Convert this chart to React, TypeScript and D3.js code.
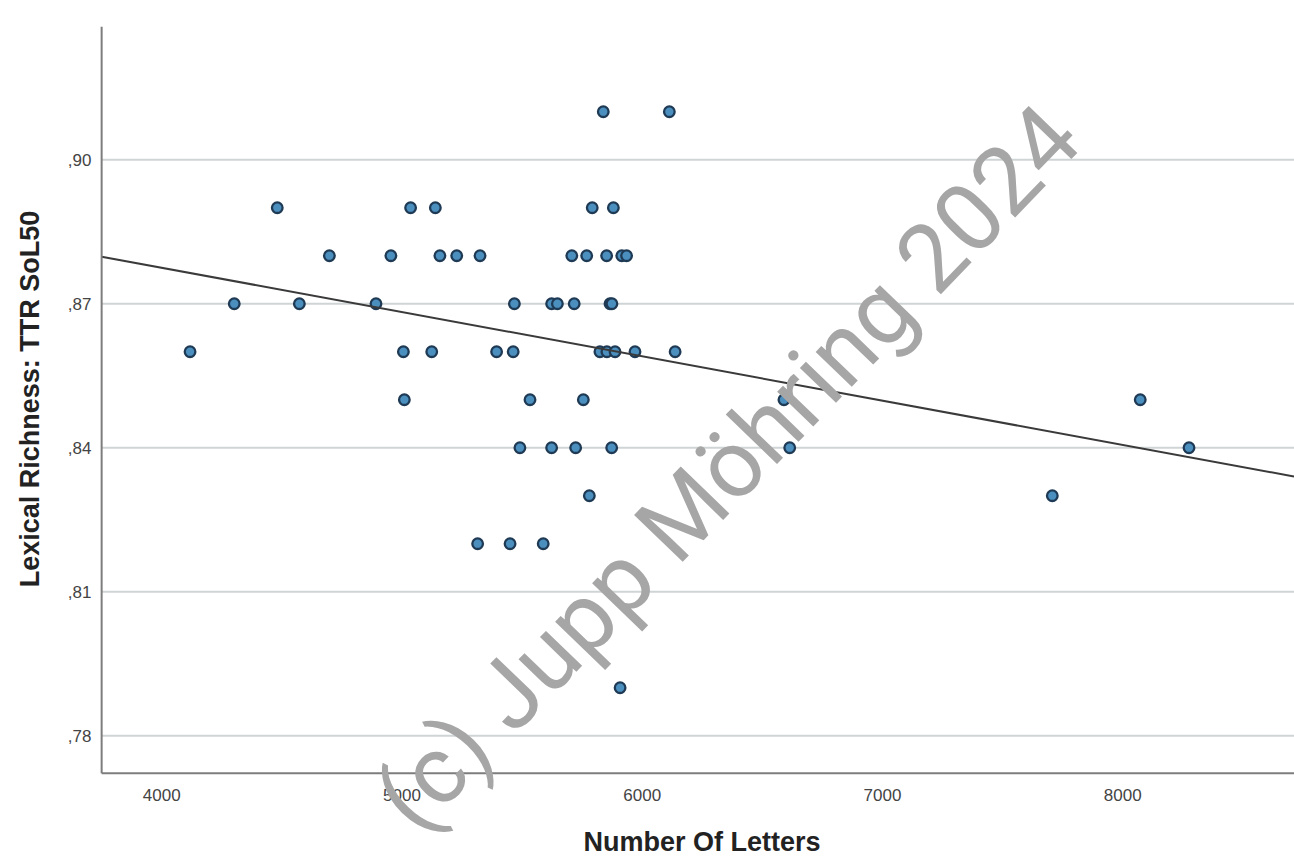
import React from "react";
import * as d3 from "d3";

// Number of letters (x) and TTR SoL50 (y) per text
const letters: number[] = [
  5838, 6113,
  4481, 5036, 5139, 5792, 5880,
  4698, 4954, 5158, 5228, 5325, 5707, 5769, 5852, 5915, 5935,
  4302, 4573, 4892, 5468, 5623, 5647, 5717, 5866, 5874,
  4118, 5006, 5124, 5394, 5463, 5824, 5853, 5887, 5970, 6137,
  5010, 5533, 5755, 6590, 8073,
  5491, 5623, 5723, 5873, 6614, 8276,
  5780, 7707,
  5315, 5450, 5588,
  5908,
];
const ttr: number[] = [
  0.91, 0.91,
  0.89, 0.89, 0.89, 0.89, 0.89,
  0.88, 0.88, 0.88, 0.88, 0.88, 0.88, 0.88, 0.88, 0.88, 0.88,
  0.87, 0.87, 0.87, 0.87, 0.87, 0.87, 0.87, 0.87, 0.87,
  0.86, 0.86, 0.86, 0.86, 0.86, 0.86, 0.86, 0.86, 0.86, 0.86,
  0.85, 0.85, 0.85, 0.85, 0.85,
  0.84, 0.84, 0.84, 0.84, 0.84, 0.84,
  0.83, 0.83,
  0.82, 0.82, 0.82,
  0.79,
];

const xTicks: number[] = [4000, 5000, 6000, 7000, 8000];
const yTicks: number[] = [0.78, 0.81, 0.84, 0.87, 0.9];
const yTickLabels: string[] = [",78", ",81", ",84", ",87", ",90"];

// Linear fit line end points (x, y)
const fitX: number[] = [3750, 8713];
const fitY: number[] = [0.8798, 0.834];

const xTitle = "Number Of Letters";
const yTitle = "Lexical Richness: TTR SoL50";
const watermark = "(c) Jupp Möhring 2024";

export default function App() {
  const W = 1294;
  const H = 858;
  const x = d3.scaleLinear().domain([4000, 8000]).range([161.7, 1122.7]);
  const y = d3.scaleLinear().domain([0.78, 0.9]).range([735.7, 159.7]);
  const left = x(3750);
  const right = W;
  const top = 26.7;
  const bottom = 773.3;
  const line = d3
    .line<number>()
    .x((d) => x(d))
    .y((_, i) => y(fitY[i]));
  const font = "'Liberation Sans', Arial, sans-serif";

  return (
    <svg
      width={W}
      height={H}
      style={{ position: "absolute", left: 0, top: 0, background: "#fff" }}
    >
      <rect x={0} y={0} width={W} height={H} fill="#fff" />
      <defs>
        <clipPath id="plot">
          <rect x={left} y={top} width={right - left} height={bottom - top} />
        </clipPath>
      </defs>
      {yTicks.map((t) => (
        <line
          key={"g" + t}
          x1={left}
          x2={right}
          y1={y(t)}
          y2={y(t)}
          stroke="#cfd5d6"
          strokeWidth={2}
        />
      ))}
      <g>
        {letters.map((v, i) => (
          <circle
            key={i}
            cx={x(v)}
            cy={y(ttr[i])}
            r={5.3}
            fill="#4b8fbf"
            stroke="#1f3a55"
            strokeWidth={2.3}
          />
        ))}
      </g>
      <path
        d={line(fitX) || ""}
        clipPath="url(#plot)"
        fill="none"
        stroke="#3a3a3a"
        strokeWidth={2}
      />
      <line x1={left} x2={left} y1={top} y2={bottom} stroke="#7d7d7d" strokeWidth={2} />
      <line x1={left} x2={right} y1={bottom} y2={bottom} stroke="#7d7d7d" strokeWidth={2} />
      {yTicks.map((t, i) => (
        <text
          key={"yt" + t}
          x={91.5}
          y={y(t)}
          dy="0.35em"
          textAnchor="end"
          fontFamily={font}
          fontSize={17}
          fill="#444"
        >
          {yTickLabels[i]}
        </text>
      ))}
      {xTicks.map((t) => (
        <text
          key={"xt" + t}
          x={x(t)}
          y={795}
          dy="0.35em"
          textAnchor="middle"
          fontFamily={font}
          fontSize={17}
          fill="#444"
        >
          {t}
        </text>
      ))}
      <text
        x={702}
        y={851}
        textAnchor="middle"
        fontFamily={font}
        fontWeight="bold"
        fontSize={27}
        fill="#222"
      >
        {xTitle}
      </text>
      <text
        transform="translate(39,399) rotate(-90)"
        textAnchor="middle"
        fontFamily={font}
        fontWeight="bold"
        fontSize={27}
        fill="#222"
      >
        {yTitle}
      </text>
      <text
        transform="translate(728,468) rotate(-46)"
        textAnchor="middle"
        dominantBaseline="central"
        fontFamily="Roboto, 'Liberation Sans', sans-serif"
        fontWeight={400}
        fontSize={95}
        fill="#a6a6a6"
      >
        {watermark}
      </text>
    </svg>
  );
}
